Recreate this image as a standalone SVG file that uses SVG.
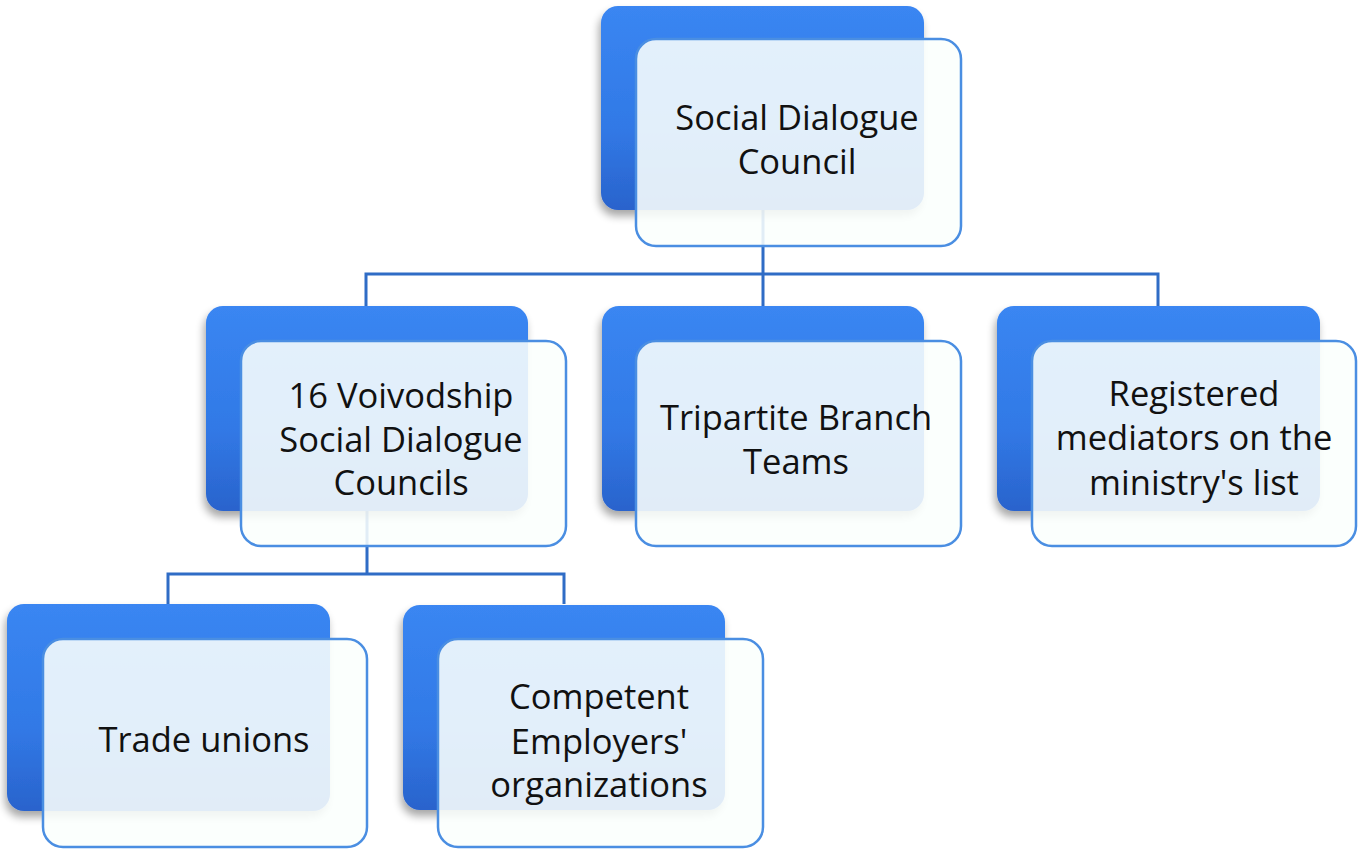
<svg xmlns="http://www.w3.org/2000/svg" width="1358" height="850" viewBox="0 0 1358 850">
<defs>
<linearGradient id="bg" x1="0" y1="0" x2="0" y2="1">
<stop offset="0" stop-color="#3a86f2"/>
<stop offset="0.6" stop-color="#3179e6"/>
<stop offset="1" stop-color="#2a63cc"/>
</linearGradient>
<filter id="sh" x="-10%" y="-10%" width="125%" height="130%">
<feGaussianBlur in="SourceAlpha" stdDeviation="4"/>
<feOffset dx="-2" dy="6" result="b"/>
<feComponentTransfer><feFuncA type="linear" slope="0.35"/></feComponentTransfer>
<feMerge><feMergeNode/><feMergeNode in="SourceGraphic"/></feMerge>
</filter>
</defs>
<style>
.back{fill:url(#bg);filter:url(#sh)}
.front{fill:#fbfffd;fill-opacity:0.88;stroke:#4a8ee2;stroke-width:2.5}
.conn{fill:none;stroke:#2f6cc6;stroke-width:3}
text{font-family:"Open Sans","Liberation Sans",sans-serif;font-size:34.5px;fill:#111111;text-anchor:middle}
</style>
<rect width="1358" height="850" fill="#ffffff"/>
<g id="connectors">
<path class="conn" d="M763 210 V274 M366 306 V274 H1158 V306 M763 274 V306"/>
<path class="conn" d="M367 511 V574 M168 604 V574 H564 V604"/>
</g>
<g id="n-sdc">
<rect class="back" x="601" y="6" width="323" height="204" rx="17"/>
<rect class="front" x="636" y="39" width="325" height="207" rx="20"/>
<text x="797" y="130">Social Dialogue</text>
<text x="797" y="174">Council</text>
</g>
<g id="n-voiv">
<rect class="back" x="206" y="306" width="322" height="205" rx="17"/>
<rect class="front" x="241" y="341" width="325" height="205" rx="20"/>
<text x="401" y="408">16 Voivodship</text>
<text x="401" y="452">Social Dialogue</text>
<text x="401" y="495">Councils</text>
</g>
<g id="n-trip">
<rect class="back" x="602" y="306" width="322" height="205" rx="17"/>
<rect class="front" x="636" y="341" width="325" height="205" rx="20"/>
<text x="796" y="430">Tripartite Branch</text>
<text x="796" y="474">Teams</text>
</g>
<g id="n-med">
<rect class="back" x="997" y="306" width="323" height="205" rx="17"/>
<rect class="front" x="1032" y="341" width="324" height="205" rx="20"/>
<text x="1194" y="406">Registered</text>
<text x="1194" y="450">mediators on the</text>
<text x="1194" y="495">ministry's list</text>
</g>
<g id="n-trade">
<rect class="back" x="7" y="604" width="323" height="207" rx="17"/>
<rect class="front" x="43" y="639" width="324" height="208" rx="20"/>
<text x="204" y="752">Trade unions</text>
</g>
<g id="n-emp">
<rect class="back" x="403" y="605" width="322" height="205" rx="17"/>
<rect class="front" x="438" y="639" width="325" height="208" rx="20"/>
<text x="599" y="709">Competent</text>
<text x="599" y="754">Employers'</text>
<text x="599" y="797">organizations</text>
</g>
</svg>
